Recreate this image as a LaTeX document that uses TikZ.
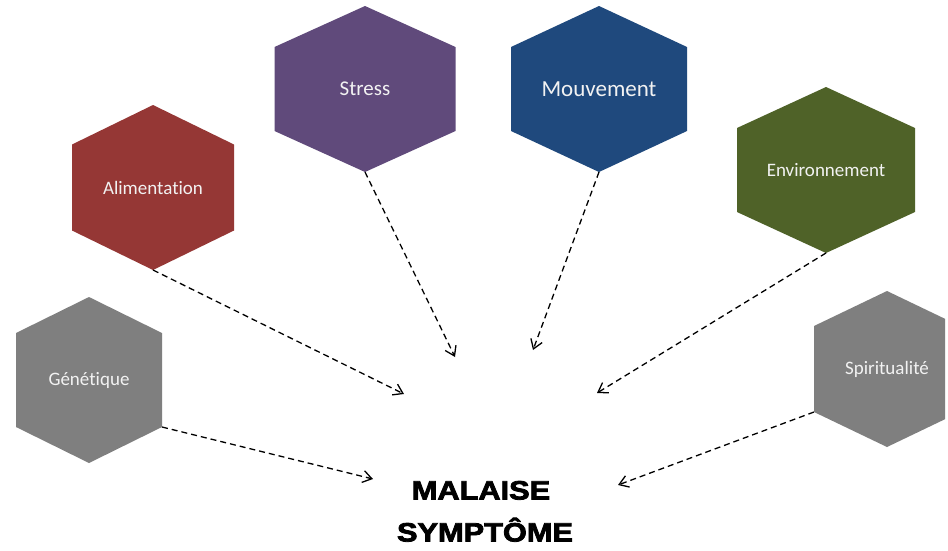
\documentclass[tikz,border=0pt]{standalone}
\usepackage{fontspec}
\setmainfont{Carlito}[Ligatures=NoCommon]
\newfontfamily\blackfont[FakeStretch=1.16,FakeBold=3]{Liberation Sans Bold}
\usetikzlibrary{arrows.meta}
\definecolor{cstress}{HTML}{604A7B}
\definecolor{cmouv}{HTML}{1F497D}
\definecolor{calim}{HTML}{953735}
\definecolor{cenv}{HTML}{4F6228}
\definecolor{cgray}{HTML}{7F7F7F}
\definecolor{ctext}{HTML}{F2F2F2}
\newcommand\hexshape[8]{%
  \fill[#7] ({#2-#4},{#3-#6}) -- (#2,{#3-#5}) -- ({#2+#4},{#3-#6}) -- ({#2+#4},{#3+#6}) -- (#2,{#3+#5}) -- ({#2-#4},{#3+#6}) -- cycle;
  \coordinate (#1-b) at (#2,{#3+#5});
  \coordinate (#1-bl) at ({#2-#4},{#3+#6});
  \coordinate (#1-br) at ({#2+#4},{#3+#6});
  \node[hexlabel] (#1) at (#2,#3) {#8};
}
\begin{document}
\begin{tikzpicture}[x=1pt,y=-1pt,
  hexlabel/.style={text=ctext, inner sep=0pt, font=\fontsize{19}{23}\selectfont},
  cause/.style={draw=black, line width=1.3pt, dash pattern=on 6pt off 4pt,
    -{Straight Barb[length=9pt,width=12pt,line width=1.3pt]}},
  bigtext/.style={anchor=base, inner sep=0pt, font=\blackfont\fontsize{26.5}{30}\selectfont}]
\useasboundingbox (0,0) rectangle (948,550);
\fill[white] (0,0) rectangle (948,550);
\hexshape{alim}{153}{187.5}{81}{82.5}{43}{calim}{Alimentation}
\hexshape{gen}{89}{380}{73}{83}{47}{cgray}{Génétique}
\hexshape{stress}{365}{89}{90.5}{83}{42}{cstress}{\fontsize{21}{25}\selectfont Stress}
\hexshape{mouv}{599}{89}{88}{83}{42}{cmouv}{\fontsize{23}{27}\selectfont Mouvement}
\hexshape{env}{826}{170}{89}{83}{42}{cenv}{Environnement}
\begin{scope}
  \clip (0,0) rectangle (945,550);
  \hexshape{spir}{887}{369}{73}{78}{43}{cgray}{Spiritualité}
\end{scope}
\node[bigtext] (mal1) at (481,499.5) {MALAISE};
\node[bigtext] (mal2) at (485,541.5) {SYMPTÔME};
\coordinate (e-alim) at (404,394);
\coordinate (e-gen) at (373,479);
\coordinate (e-stress) at (455,357);
\coordinate (e-mouv) at (533,350);
\coordinate (e-env) at (597,393);
\coordinate (e-spir) at (618,485);
\draw[cause] (alim-b) -- (e-alim);
\draw[cause] (gen-br) -- (e-gen);
\draw[cause] (stress-b) -- (e-stress);
\draw[cause] (mouv-b) -- (e-mouv);
\draw[cause] (env-b) -- (e-env);
\draw[cause] (spir-bl) -- (e-spir);
\end{tikzpicture}
\end{document}
